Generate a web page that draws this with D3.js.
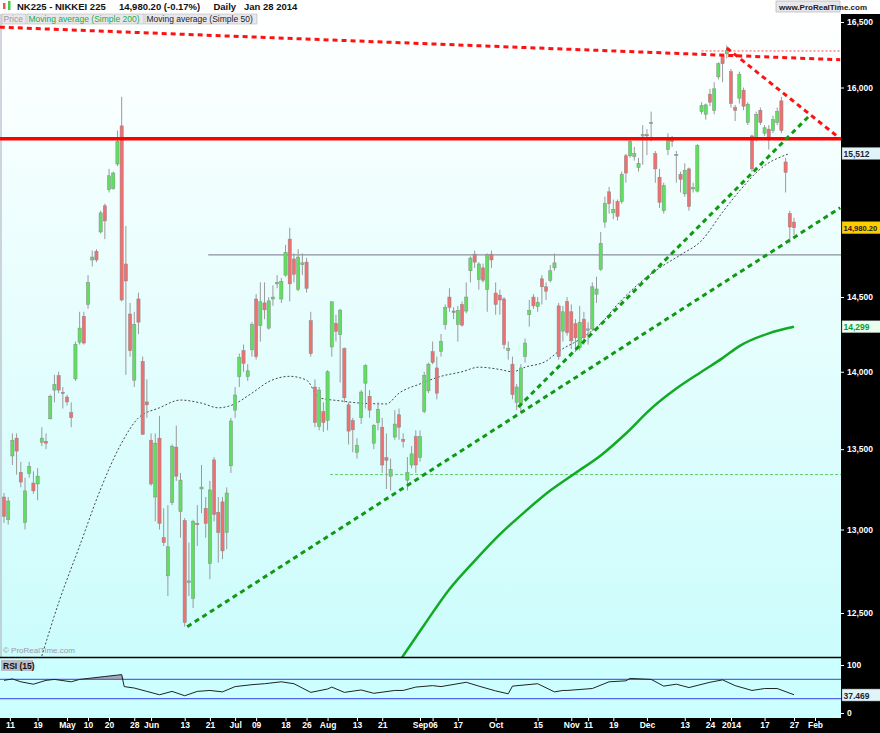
<!DOCTYPE html>
<html>
<head>
<meta charset="utf-8">
<script src="https://cdn.jsdelivr.net/npm/d3@7"></script>
<style>
body { margin: 0; background: #fff; }
text { font-family: "Liberation Sans", Arial, sans-serif; }
</style>
</head>
<body>
<svg id="chart" width="880" height="733"></svg>
<script>
// daily candles, Apr 2013 - Jan 28 2014 (index = trading day)
const OPEN = [
13200,13060,13457,13570,13354,13042,13348,13287,13281,13544,
13550,13694,13880,13975,13865,13835,13733,13953,14196,14370,
14450,14755,14815,14950,15135,15250,15257,15435,15714,14727,
14385,13945,14487,14068,13803,13557,13200,13570,12950,12720,
13165,13513,13110,13055,12680,12585,13037,13250,13130,12794,
13432,13105,13170,12982,13395,13750,13968,14140,13968,14145,
14487,14308,14460,14290,14487,14590,14487,14650,14900,14762,
14553,14722,14740,14340,13900,13645,13740,13684,14164,14322,
14247,14154,13784,13683,13480,13701,13925,13840,13538,13670,
13640,13447,13330,13577,13720,13562,13305,13400,13580,13447,
13743,13875,14133,14025,14135,14315,14500,14405,14315,14450,
14405,14680,14795,14620,14700,14553,14795,14527,14513,14487,
14140,14050,13800,13790,14100,14380,14500,14435,14625,14570,
14615,14700,14440,14270,14470,14400,14320,14160,14350,14275,
14285,14520,14690,15020,15235,15085,15165,15165,15495,15495,
15490,15410,15640,15650,15730,15510,15340,15100,15540,15610,
15500,15360,15220,15400,15255,15240,15820,15800,15950,15830,
16080,16240,16255,16120,15850,15920,15980,15740,15640,15630,
15830,15660,15690,15680,15740,15900,15450,15080,15020];
const HIGH = [
13225,13200,13600,13600,13420,13320,13420,13360,13380,13640,
13600,13850,13980,14000,13900,13850,13800,14200,14400,14400,
14650,14820,14830,15100,15150,15400,15380,15680,15930,14993,
14460,14400,14530,14100,13950,13600,13600,13713,13130,13150,
13530,13650,13350,13070,12920,13060,13150,13400,13200,13300,
13450,13200,13200,13260,13700,13900,14120,14180,14050,14330,
14520,14600,14600,14500,14580,14650,14630,14860,14980,14800,
14830,14800,14770,14400,13950,13900,13800,14010,14470,14380,
14420,14160,13800,13700,13570,13880,14050,13880,13660,13800,
13700,13600,13440,13750,13760,13600,13450,13520,13620,13620,
14000,14060,14200,14100,14250,14450,14560,14430,14440,14470,
14600,14780,14820,14740,14730,14800,14820,14600,14550,14500,
14200,14100,13920,14050,14220,14480,14520,14500,14650,14600,
14720,14800,14460,14440,14500,14450,14350,14440,14400,14330,
14600,14640,14950,15200,15270,15180,15180,15380,15510,15620,
15560,15480,15720,15690,15820,15530,15400,15300,15660,15640,
15530,15380,15440,15410,15300,15580,15890,15880,15990,16040,
16190,16250,16320,16140,15870,16120,16000,15890,15650,15820,
15850,15720,15720,15790,15850,15930,15480,15100,15050];
const LOW = [
13040,13030,13400,13340,13260,13000,13320,13220,13180,13520,
13500,13690,13800,13860,13760,13780,13640,13940,14180,14180,
14420,14710,14740,14940,14900,15230,15250,15420,14470,13980,
14100,13900,14250,13590,13700,13270,13050,13000,12900,12600,
13150,13300,12950,12420,12600,12530,12900,13100,12950,12700,
13050,12800,12820,12880,13350,13700,13900,14000,13940,14100,
14080,14200,14350,14280,14440,14560,14460,14640,14470,14600,
14540,14650,14530,14100,13640,13620,13610,13620,14100,14200,
13930,13800,13530,13480,13440,13660,13760,13700,13500,13620,
13350,13250,13240,13560,13560,13510,13240,13380,13350,13420,
13730,13860,14050,13820,14100,14280,14400,14350,14200,14300,
14390,14600,14700,14550,14600,14400,14700,14380,14380,14150,
14080,13820,13750,13740,14060,14300,14420,14400,14450,14480,
14600,14680,14080,14200,14240,14150,14130,14140,14180,14180,
14270,14460,14680,14980,15080,15040,15030,15150,15300,15480,
15460,15380,15430,15500,15600,15300,15120,15080,15500,15560,
15300,15230,15200,15100,15230,15230,15800,15760,15860,15800,
16060,16040,16220,15850,15750,15880,15830,15720,15380,15600,
15720,15640,15540,15660,15720,15660,15230,14870,14930];
const CLOSE = [
13080,13175,13557,13488,13293,13238,13390,13238,13330,13570,
13538,13840,13918,13880,13858,13803,13701,14182,14290,14190,
14600,14775,14755,15085,15028,15350,15370,15600,14480,14610,
14140,14315,14330,13595,13784,13281,13538,13037,12920,12895,
13519,13330,13305,12445,12690,13050,13030,13262,13037,13244,
13092,12982,12870,13225,13680,13848,14093,14055,14006,14315,
14100,14468,14413,14474,14500,14600,14606,14808,14590,14656,
14775,14735,14560,14120,13670,13880,13670,14000,14468,14268,
14411,13830,13615,13623,13525,13867,14040,13750,13652,13755,
13400,13430,13372,13660,13640,13550,13354,13470,13400,13580,
13975,14050,14062,13860,14200,14430,14430,14395,14410,14310,
14500,14768,14740,14727,14615,14790,14755,14450,14480,14180,
14155,13850,13900,14025,14190,14410,14440,14465,14570,14540,
14680,14735,14100,14400,14260,14205,14225,14330,14225,14285,
14570,14555,14870,15150,15150,15110,15060,15360,15370,15600,
15510,15440,15650,15640,15740,15400,15160,15280,15630,15600,
15505,15325,15390,15130,15265,15570,15865,15870,15890,15990,
16180,16180,16280,15880,15830,16100,15860,15875,15400,15800,
15740,15700,15610,15760,15820,15680,15375,14985,14980];

// moving averages, sampled [trading day index, value]
const MA50_IDX = [9,13,18,23,28,32,37,42,47,51,54,59,63,68,72,75,80,85,91,94,99,104,109,113,118,121,124,129,132,137,142,146,151,156,161,166,171,175,180,187];
const MA50_VAL = [12250,12560,12900,13250,13540,13700,13765,13815,13795,13765,13780,13860,13935,13970,13945,13830,13810,13795,13790,13860,13920,13970,14000,14030,14015,14000,14030,14070,14135,14215,14320,14450,14590,14700,14790,14890,15090,15240,15400,15512];
const MA200_IDX = [93,100,106,112,118,124,130,136,142,148,154,160,166,171,175,182,188];
const MA200_VAL = [12180,12430,12640,12810,12970,13110,13240,13350,13460,13600,13760,13890,14000,14090,14170,14255,14299];

// RSI(15), sampled
const RSI_IDX = [0,2,4,7,10,12,16,18,20,24,27,28,28.6,31,34,37,40,43,46,49,52,55,59,62,66,69,73,77,78,81,85,88,93,95,98,102,104,110,113,117,120,121,127,131,133,134,140,144,148,149,154,157,160,163,168,171,174,178,181,184,188];
const RSI_VAL = [68,71,65,60,68,70,65,70,72,76,79,80,55,52,45,38,45,36,45,47,44,55,59,61,65,61,43,50,54,43,48,41,47,47,54,57,55,64,56,46,40,56,61,44,47,47,51,65,67,72,70,56,60,53,64,69,57,47,51,51,38];

const DATE_POS = [1.4,8,15,20,25,31,35,43,49,55,60,67,72,77,84,90,99,102,108,117,127,135,139,145,153,162,168,173,181,188,193];
const DATE_LBL = ['11','19','May','10','20','28','Jun','13','21','Jul','09','18','26','Aug','13','21','Sep','06','17','Oct','15','Nov','11','19','Dec','13','24','2014','17','27','Feb'];
const PRICE_TICKS = [16500,16000,14500,14000,13500,13000,12500];

// drawn levels and trend lines [idx, price]
const RES_LEVEL = 15620;
const GRAY_LEVEL = [48.6, 14790];
const GREEN_LEVEL = [77.6, 13340];
const RED_DOTTED = [166, 16277];
const RED_TREND1 = [[-1,16460],[199,16210]];
const RED_TREND2 = [[172,16300],[199,15620]];
const GREEN_TREND1 = [[43.6,12420],[199,15121]];
const GREEN_TREND2 = [[122.4,13770],[192,15800]];

const W = 841, TOP = 14, PBOT = 657, RTOP = 658, RBOT = 718;
const svg = d3.select('#chart');

const defs = svg.append('defs');
const grad = defs.append('linearGradient').attr('id', 'bg').attr('x1', 0).attr('y1', 0).attr('x2', 0).attr('y2', 1);
grad.append('stop').attr('offset', '0%').attr('stop-color', '#ffffff');
grad.append('stop').attr('offset', '100%').attr('stop-color', '#ccfcfc');
defs.append('clipPath').attr('id', 'pclip').append('rect').attr('x', 0).attr('y', TOP).attr('width', W).attr('height', PBOT - TOP);
defs.append('clipPath').attr('id', 'rclip').append('rect').attr('x', 0).attr('y', RTOP).attr('width', W).attr('height', RBOT - RTOP);

const x = d3.scaleLinear().domain([0, 188]).range([4, 794]);
const y = d3.scaleLog().domain([12500, 16500]).range([613, 22]);
const yr = d3.scaleLinear().domain([0, 100]).range([713, 665]);

svg.append('rect').attr('width', 880).attr('height', 733).attr('fill', '#fff');
svg.append('rect').attr('x', 0).attr('y', TOP).attr('width', W).attr('height', PBOT - TOP).attr('fill', 'url(#bg)');
svg.append('rect').attr('x', 0).attr('y', RTOP).attr('width', W).attr('height', RBOT - RTOP).attr('fill', '#ccffff');
svg.append('line').attr('x1', 1).attr('x2', 1).attr('y1', TOP).attr('y2', PBOT).attr('stroke', '#aab');

const p = svg.append('g').attr('clip-path', 'url(#pclip)');
const lineP = d3.line().x(d => x(d[0])).y(d => y(d[1]));

// levels
p.append('line').attr('x1', x(GRAY_LEVEL[0])).attr('x2', W).attr('y1', y(GRAY_LEVEL[1])).attr('y2', y(GRAY_LEVEL[1]))
	.attr('stroke', '#556').attr('stroke-width', 0.8);
p.append('line').attr('x1', x(GREEN_LEVEL[0])).attr('x2', W).attr('y1', y(GREEN_LEVEL[1])).attr('y2', y(GREEN_LEVEL[1]))
	.attr('stroke', '#44bb44').attr('stroke-width', 0.8).attr('stroke-dasharray', '3,2');
p.append('line').attr('x1', x(RED_DOTTED[0])).attr('x2', W).attr('y1', y(RED_DOTTED[1])).attr('y2', y(RED_DOTTED[1]))
	.attr('stroke', '#ee2222').attr('stroke-width', 0.8).attr('stroke-dasharray', '2,2');

// moving averages
p.append('path').datum(MA200_IDX.map((d, i) => [d, MA200_VAL[i]]))
	.attr('d', lineP.curve(d3.curveMonotoneX)).attr('fill', 'none').attr('stroke', '#11aa22').attr('stroke-width', 2.5);
p.append('path').datum(MA50_IDX.map((d, i) => [d, MA50_VAL[i]]))
	.attr('d', lineP.curve(d3.curveMonotoneX)).attr('fill', 'none').attr('stroke', '#333').attr('stroke-width', 0.9).attr('stroke-dasharray', '2,2');
lineP.curve(d3.curveLinear);

// candles
const data = OPEN.map((o, i) => ({ i, o, h: HIGH[i], l: LOW[i], c: CLOSE[i] }));
const cg = p.append('g');
cg.selectAll('line').data(data).enter().append('line')
	.attr('x1', d => x(d.i)).attr('x2', d => x(d.i))
	.attr('y1', d => y(d.h)).attr('y2', d => y(d.l))
	.attr('stroke', '#9a9a9a').attr('stroke-width', 1);
cg.selectAll('rect').data(data).enter().append('rect')
	.attr('x', d => x(d.i) - 1.6).attr('width', 3.2)
	.attr('y', d => y(Math.max(d.o, d.c)))
	.attr('height', d => Math.max(1.2, Math.abs(y(d.o) - y(d.c))))
	.attr('fill', d => d.c >= d.o ? '#5ee05e' : '#ee7070')
	.attr('stroke', '#888').attr('stroke-width', 0.5);

// resistance + trend lines
p.append('line').attr('x1', 0).attr('x2', W).attr('y1', y(RES_LEVEL)).attr('y2', y(RES_LEVEL))
	.attr('stroke', '#ff0000').attr('stroke-width', 3.5);
[[RED_TREND1, '#ff1111'], [RED_TREND2, '#ff1111'], [GREEN_TREND1, '#119911'], [GREEN_TREND2, '#119911']].forEach(t => {
	p.append('path').datum(t[0]).attr('d', lineP).attr('fill', 'none')
		.attr('stroke', t[1]).attr('stroke-width', 3).attr('stroke-dasharray', '5,4');
});

svg.append('text').attr('x', 3).attr('y', 653).attr('font-size', 8).attr('fill', '#99a').text('© ProRealTime.com');

// RSI panel
const r = svg.append('g').attr('clip-path', 'url(#rclip)');
const rsiPts = RSI_IDX.map((d, i) => [d, RSI_VAL[i]]);
const area = d3.area().x(d => x(d[0])).y0(yr(70)).y1(d => yr(Math.max(70, d[1])));
r.append('path').datum(rsiPts).attr('d', area).attr('fill', '#a8a8b0').attr('stroke', 'none');
[70, 30].forEach(v => r.append('line').attr('x1', 0).attr('x2', W).attr('y1', yr(v)).attr('y2', yr(v))
	.attr('stroke', '#5566ee').attr('stroke-width', 1.2));
r.append('path').datum(rsiPts).attr('d', d3.line().x(d => x(d[0])).y(d => yr(d[1])))
	.attr('fill', 'none').attr('stroke', '#222').attr('stroke-width', 1);
svg.append('rect').attr('x', 1).attr('y', 660).attr('width', 32).attr('height', 11).attr('fill', '#bbbbc4');
svg.append('text').attr('x', 3).attr('y', 669).attr('font-size', 8.5).attr('font-weight', 'bold').attr('fill', '#111').text('RSI (15)');

// panel borders
svg.append('line').attr('x1', 0).attr('x2', 880).attr('y1', PBOT + 0.5).attr('y2', PBOT + 0.5).attr('stroke', '#000').attr('stroke-width', 1.5);

// right axis (black)
svg.append('rect').attr('x', W).attr('y', TOP).attr('width', 880 - W).attr('height', 733 - TOP).attr('fill', '#000');
const ya = svg.append('g').attr('transform', `translate(${W},0)`)
	.call(d3.axisRight(y).tickValues(PRICE_TICKS).tickSize(3).tickFormat(d3.format(',')));
ya.select('.domain').remove();
ya.selectAll('line').attr('stroke', '#fff');
ya.selectAll('text').attr('fill', '#fff').attr('font-size', 8.5).attr('font-weight', 'bold').attr('x', 6);
const yra = svg.append('g').attr('transform', `translate(${W},0)`)
	.call(d3.axisRight(yr).tickValues([0, 100]).tickSize(3));
yra.select('.domain').remove();
yra.selectAll('line').attr('stroke', '#fff');
yra.selectAll('text').attr('fill', '#fff').attr('font-size', 8.5).attr('font-weight', 'bold').attr('x', 6);

function tag(val, txt, bg, fg, scale) {
	const yy = scale(val);
	svg.append('rect').attr('x', W + 1).attr('y', yy - 6).attr('width', 38.5).attr('height', 12)
		.attr('fill', bg).attr('stroke', '#888').attr('stroke-width', 0.5);
	svg.append('text').attr('x', W + 2.5).attr('y', yy + 3.5).attr('font-size', txt.length > 7 ? 7.6 : 8.5)
		.attr('font-weight', 'bold').attr('fill', fg).text(txt);
}
tag(15512, '15,512', '#e0f4f8', '#223', y);
tag(CLOSE[CLOSE.length - 1], '14,980.20', '#ffcc00', '#222', y);
tag(14299, '14,299', '#e8fff0', '#119933', y);
tag(37.469, '37.469', '#e0f4f8', '#223', yr);

// date axis (black)
svg.append('rect').attr('x', 0).attr('y', RBOT).attr('width', 880).attr('height', 733 - RBOT).attr('fill', '#000');
const xa = svg.append('g').attr('transform', `translate(0,${RBOT})`)
	.call(d3.axisBottom(x).tickValues(DATE_POS).tickSize(3).tickFormat((d, i) => DATE_LBL[i]));
xa.select('.domain').remove();
xa.selectAll('line').attr('stroke', '#fff');
xa.selectAll('text').attr('fill', '#fff').attr('font-size', 8.5).attr('font-weight', 'bold').attr('dy', '0.5em');

// header
svg.append('rect').attr('x', 0).attr('y', 0).attr('width', 880).attr('height', TOP - 1).attr('fill', '#fff');
svg.append('rect').attr('x', 3).attr('y', 3).attr('width', 2.5).attr('height', 6).attr('fill', '#ee5555');
svg.append('rect').attr('x', 8).attr('y', 1).attr('width', 2.5).attr('height', 9).attr('fill', '#44cc44');
svg.append('text').attr('x', 17).attr('y', 9.5).attr('font-size', 9.5).attr('font-weight', 'bold').attr('fill', '#111')
	.text('NK225 - NIKKEI 225     14,980.20 (-0.17%)     Daily   Jan 28 2014').attr('xml:space', 'preserve');
svg.append('rect').attr('x', 776).attr('y', 1).attr('width', 64).attr('height', 11).attr('fill', '#e8e8ec').attr('stroke', '#999').attr('stroke-width', 0.5);
svg.append('text').attr('x', 779).attr('y', 9.5).attr('font-size', 8).attr('font-weight', 'bold').attr('fill', '#222').text('www.ProRealTime.com');
const leg = [['Price', '#999', 2, 24], ['Moving average (Simple 200)', '#22aa44', 27, 117], ['Moving average (Simple 50)', '#222', 145, 112]];
leg.forEach(l => {
	svg.append('rect').attr('x', l[2]).attr('y', 14).attr('width', l[3]).attr('height', 10).attr('fill', '#e8e8ec').attr('stroke', '#aaa').attr('stroke-width', 0.5);
	svg.append('text').attr('x', l[2] + 1.5).attr('y', 22).attr('font-size', 8.5).attr('fill', l[1]).text(l[0]);
});
</script>
</body>
</html>
